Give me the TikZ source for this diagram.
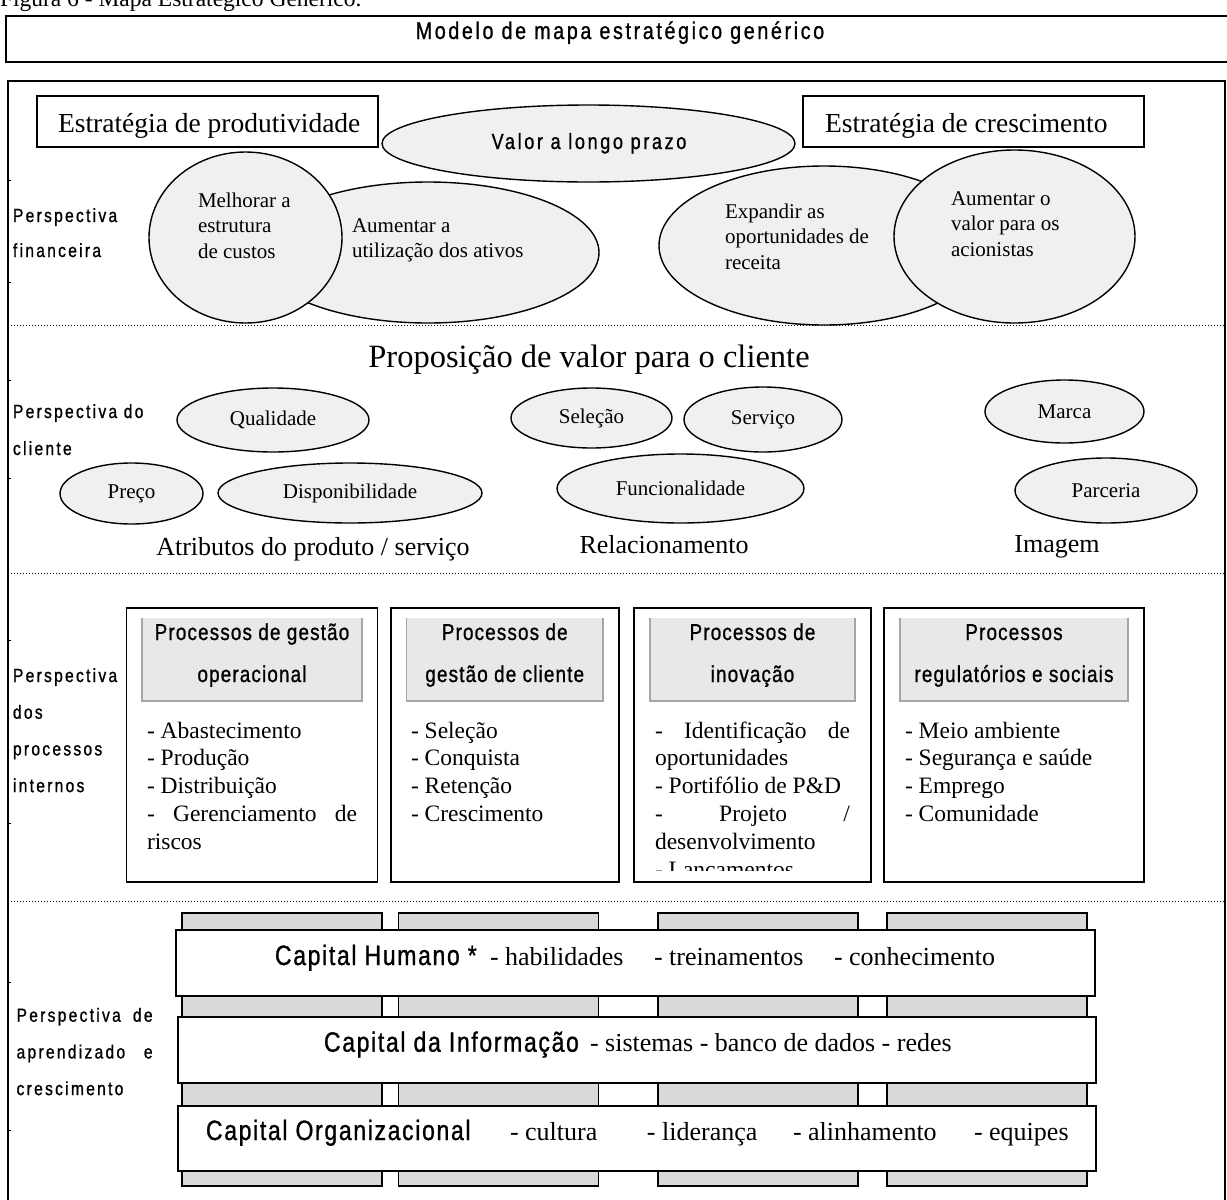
\documentclass[tikz,border=0pt]{standalone}
\usepackage{fontspec}
\setmainfont{Liberation Serif}
\newfontfamily\titlefont[FakeStretch=0.82,LetterSpace=11,FakeBold=1]{Liberation Sans}
\newfontfamily\valfont[FakeStretch=0.82,LetterSpace=12,FakeBold=1]{Liberation Sans}
\newfontfamily\sidefont[FakeStretch=0.82,LetterSpace=12,FakeBold=1]{Liberation Sans}
\newfontfamily\headfont[FakeStretch=0.82,LetterSpace=5,FakeBold=1]{Liberation Sans}
\newfontfamily\capfont[FakeStretch=0.82,LetterSpace=6,FakeBold=1]{Liberation Sans}
\usetikzlibrary{shapes.geometric}
\newcommand{\mlines}[2]{\parbox[t]{#1}{\raggedright #2}}
\newcommand{\clines}[2]{\parbox[t]{#1}{\centering #2}}
\newcommand{\ovalsz}{\fontsize{21}{25.5}\selectfont}
\newcommand{\listsz}{\fontsize{23.5}{27.9}\selectfont}
\newcommand{\sidesz}{\fontsize{19}{36.7}\selectfont}
\newcommand{\headsz}{\fontsize{23}{42}\selectfont}
\begin{document}
\begin{tikzpicture}[x=1pt,y=-1pt,
  every node/.style={inner sep=0pt,outer sep=0pt},
  oval/.style={ellipse,draw,line width=1.4pt,fill=black!6,font=\ovalsz},
  framebox/.style={draw,line width=1.8pt,anchor=north west},
  headbox/.style={fill=black!9,anchor=north west,minimum height=83pt},
  pillar/.style={draw,line width=1.6pt,fill=black!15,anchor=north west,
    minimum width=200pt,minimum height=273pt},
  capbar/.style={draw,line width=2pt,fill=white,anchor=north west,minimum width=918.5pt},
  txt/.style={anchor=base west},
  ctxt/.style={anchor=base},
  sepline/.style={dotted,line width=1pt},
  headedge/.style={draw=black!35,line width=1.2pt},
  frametick/.style={line width=1pt},
]
\useasboundingbox (0,0) rectangle (1227,1200);
\clip (0,0) rectangle (1227,1200);

% caption and title
\node[txt] (caption) at (0,6) {\fontsize{23.5}{27}\selectfont Figura 6 - Mapa Estratégico Genérico.};
\node[framebox,line width=2.5pt,minimum width=1235pt,minimum height=46pt] (titlebox) at (6,16) {};
\node[ctxt] (title) at (620,39) {\titlefont\fontsize{24}{28}\selectfont Modelo de mapa estratégico genérico};

% outer frame and section separators
\draw[line width=2pt] (8,1210) -- (8,81) -- (1225,81) -- (1225,1210);
\foreach \t in {180,282,380,478,640,823,982,1130}
  \draw[frametick] (8,\t) -- (11,\t);
\draw[sepline] (8,325) -- (1225,325);
\draw[sepline] (8,573) -- (1225,573);
\draw[sepline] (8,901) -- (1225,901);

% ---------- financial perspective ----------
\node[txt] (finlabel) at (13,222) {\mlines{150pt}{\sidefont\fontsize{19}{35}\selectfont Perspectiva\\financeira}};
\node[framebox,minimum width=341pt,minimum height=51pt] (prodbox) at (37,96) {};
\node[txt] (prodtext) at (58,132) {\fontsize{27.5}{32}\selectfont Estratégia de produtividade};
\node[framebox,minimum width=341pt,minimum height=51pt] (growbox) at (803,96) {};
\node[txt] (growtext) at (825,132) {\fontsize{27.5}{32}\selectfont Estratégia de crescimento};

\node[oval,minimum width=413pt,minimum height=77pt] (valor) at (588.5,143.5) {};
\node[ctxt] (valortext) at (589,149) {\valfont\fontsize{22}{26}\selectfont Valor a longo prazo};

\node[oval,minimum width=342pt,minimum height=141pt] (ativos) at (428,252.5) {};
\node[oval,minimum width=193pt,minimum height=171pt] (custos) at (245.5,237.5) {};
\node[txt] (ativostext) at (352,232) {\mlines{200pt}{\ovalsz Aumentar a\\utilização dos ativos}};
\node[txt] (custostext) at (198,207) {\mlines{120pt}{\ovalsz Melhorar a\\estrutura\\de custos}};

\node[oval,minimum width=330pt,minimum height=159pt] (receita) at (824,245.5) {};
\node[oval,minimum width=241pt,minimum height=173pt] (acion) at (1014.5,236.5) {};
\node[txt] (receitatext) at (725,218) {\mlines{180pt}{\ovalsz Expandir as\\oportunidades de\\receita}};
\node[txt] (aciontext) at (951,205) {\mlines{150pt}{\ovalsz Aumentar o\\valor para os\\acionistas}};

% ---------- customer perspective ----------
\node[txt] (clilabel) at (13,418) {\mlines{150pt}{\sidefont\fontsize{19}{37}\selectfont Perspectiva do\\cliente}};
\node[ctxt] (proposta) at (589,367) {\fontsize{32.5}{38}\selectfont Proposição de valor para o cliente};

\node[oval,minimum width=192pt,minimum height=64pt] (qual) at (273,420) {Qualidade};
\node[oval,minimum width=143pt,minimum height=61pt] (preco) at (131.5,493.5) {Preço};
\node[oval,minimum width=264pt,minimum height=60pt] (disp) at (350,493) {Disponibilidade};
\node[oval,minimum width=161pt,minimum height=60pt] (sel) at (591.5,418) {Seleção};
\node[oval,minimum width=158pt,minimum height=65pt] (serv) at (763,419.5) {Serviço};
\node[oval,minimum width=247pt,minimum height=69pt] (func) at (680.5,488.5) {Funcionalidade};
\node[oval,minimum width=159pt,minimum height=63pt] (marca) at (1064.5,411.5) {Marca};
\node[oval,minimum width=182pt,minimum height=65pt] (parc) at (1106,490.5) {Parceria};

\node[ctxt] (atrib) at (313,555) {\fontsize{26}{30}\selectfont Atributos do produto / serviço};
\node[ctxt] (relac) at (664,553) {\fontsize{26}{30}\selectfont Relacionamento};
\node[ctxt] (imagem) at (1057,552) {\fontsize{26}{30}\selectfont Imagem};

% ---------- internal processes ----------
\node[txt] (proclabel) at (13,682) {\mlines{150pt}{\sidefont\sidesz Perspectiva\\dos\\processos\\internos}};

\node[framebox,minimum width=251pt,minimum height=274pt] (opbox) at (126.5,608) {};
\node[framebox,minimum width=228.3pt,minimum height=274pt] (clbox) at (390.7,608) {};
\node[framebox,minimum width=236.7pt,minimum height=274pt] (inbox) at (634,608) {};
\node[framebox,minimum width=260pt,minimum height=274pt] (rgbox) at (884,608) {};

\node[headbox,minimum width=220pt] (ophead) at (142,618) {};
\node[headbox,minimum width=196.5pt] (clhead) at (406.5,618) {};
\node[headbox,minimum width=205pt] (inhead) at (650,618) {};
\node[headbox,minimum width=228pt] (rghead) at (900,618) {};
\foreach \h in {ophead,clhead,inhead,rghead}
  \draw[headedge] (\h.north west) -- (\h.south west) -- (\h.south east) -- (\h.north east);

\node[ctxt] (optitle) at (252,640) {\clines{230pt}{\headfont\headsz Processos de gestão\\operacional}};
\node[ctxt] (cltitle) at (504.75,640) {\clines{230pt}{\headfont\headsz Processos de\\gestão de cliente}};
\node[ctxt] (intitle) at (752.5,640) {\clines{230pt}{\headfont\headsz Processos de\\inovação}};
\node[ctxt] (rgtitle) at (1014,640) {\clines{240pt}{\headfont\headsz Processos\\regulatórios e sociais}};

\node[txt] (oplist) at (147,738) {\parbox[t]{210pt}{\listsz - Abastecimento\\- Produção\\- Distribuição\\\makebox[\linewidth][s]{- Gerenciamento de}\\riscos}};
\node[txt] (cllist) at (411,738) {\parbox[t]{200pt}{\listsz - Seleção\\- Conquista\\- Retenção\\- Crescimento}};
\begin{scope}
  \clip (634,608) rectangle (871,870);
  \node[txt] (inlist) at (655,738) {\parbox[t]{195pt}{\listsz \makebox[\linewidth][s]{- Identificação de}\\oportunidades\\- Portifólio de P\&D\\\makebox[\linewidth][s]{- Projeto /}\\desenvolvimento\\- Lançamentos}};
\end{scope}
\node[txt] (rglist) at (905,738) {\parbox[t]{230pt}{\listsz - Meio ambiente\\- Segurança e saúde\\- Emprego\\- Comunidade}};

% ---------- learning and growth ----------
\node[txt] (learnlabel) at (16.6,1021.7) {\parbox[t]{136pt}{\sidefont\sidesz \makebox[\linewidth][s]{Perspectiva de}\\\makebox[\linewidth][s]{aprendizado e}\\crescimento}};

\node[pillar] (pil1) at (182,912.7) {};
\node[pillar] (pil2) at (398.6,912.7) {};
\node[pillar] (pil3) at (658,912.7) {};
\node[pillar] (pil4) at (886.7,912.7) {};

\node[capbar,minimum height=65.7pt] (human) at (176,930) {};
\node[capbar,minimum height=66.3pt] (info) at (177.5,1016.7) {};
\node[capbar,minimum height=65pt] (org) at (177.5,1105.7) {};

\node[txt] (humantext) at (275,965) {\makebox[215pt][l]{\capfont\fontsize{28}{32}\selectfont Capital Humano *}\fontsize{26}{30}\selectfont\makebox[164pt][l]{- habilidades}\makebox[180pt][l]{- treinamentos}- conhecimento};
\node[txt] (infotext) at (324,1051.7) {\makebox[266pt][l]{\capfont\fontsize{28}{32}\selectfont Capital da Informação}\fontsize{26}{30}\selectfont - sistemas - banco de dados - redes};
\node[txt] (orgtext) at (206,1140) {\makebox[304pt][l]{\capfont\fontsize{28}{32}\selectfont Capital Organizacional}\fontsize{26}{30}\selectfont\makebox[137pt][l]{- cultura}\makebox[146pt][l]{- liderança}\makebox[181pt][l]{- alinhamento}- equipes};

\end{tikzpicture}
\end{document}
